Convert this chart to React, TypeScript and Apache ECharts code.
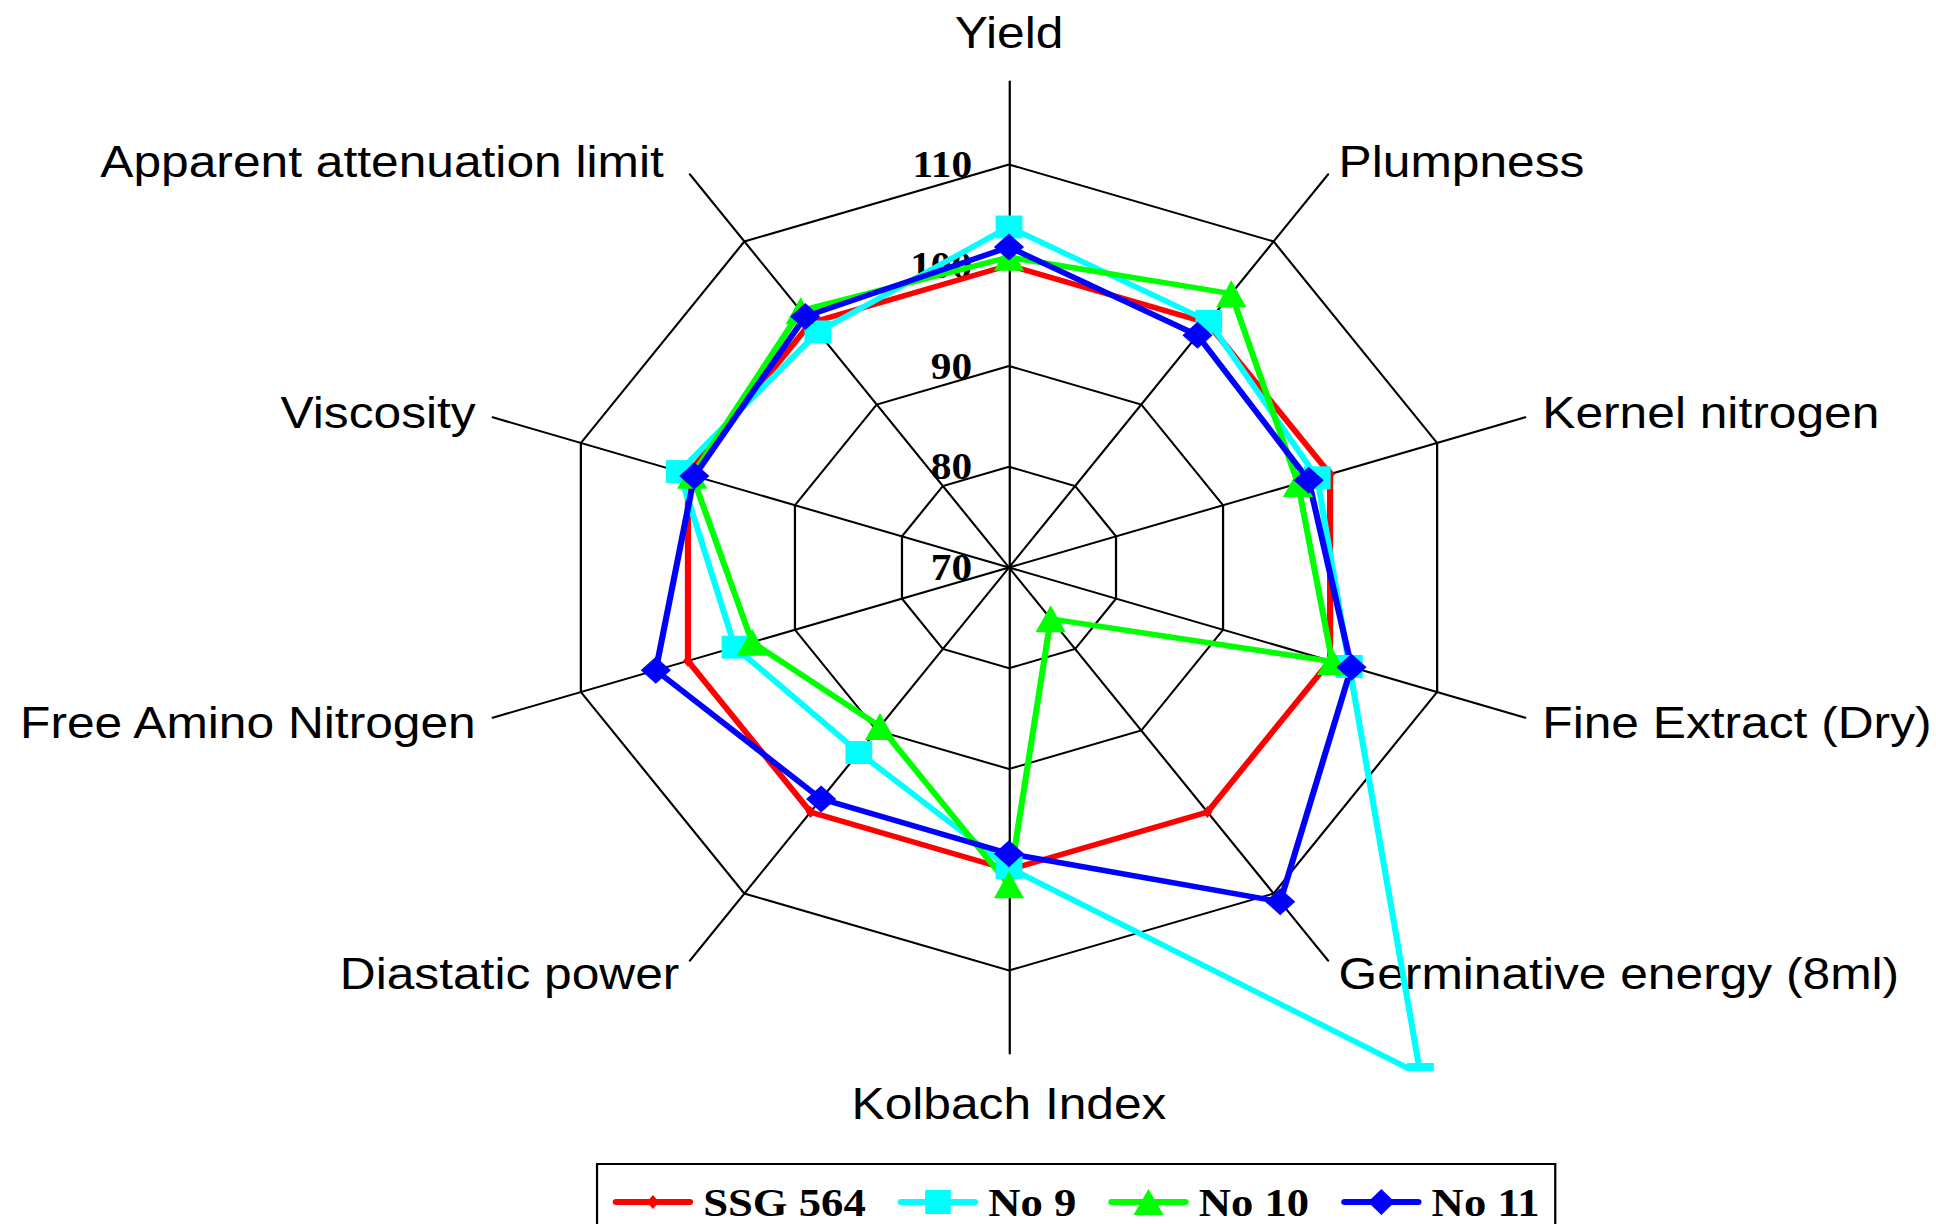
import React, { useEffect, useRef } from "react";
import * as echarts from "echarts";

// ---- data (clockwise from the top, as in the picture) ----
const indicators = [
  "Yield",
  "Plumpness",
  "Kernel nitrogen",
  "Fine Extract (Dry)",
  "Germinative energy (8ml)",
  "Kolbach Index",
  "Diastatic power",
  "Free Amino Nitrogen",
  "Viscosity",
  "Apparent attenuation limit",
];
const seriesNames = ["SSG 564", "No 9", "No 10", "No 11"];
const ssg564 = [100, 100, 100, 100, 100, 100, 100, 100, 100, 100];
const no9 = [103.8, 100.2, 98.8, 101.8, 132.2, 99.8, 92.7, 95.6, 100.8, 98.9];
const no10 = [100.8, 103.6, 97.0, 100.2, 76.3, 101.5, 89.5, 94.0, 99.6, 101.5];
const no11 = [101.8, 98.5, 98.0, 102.0, 111.0, 98.4, 98.4, 103.0, 99.4, 100.8];
const scaleMin = 70;
const scaleMax = 110;
const scaleStep = 10;

// ---- styles ----
const colors = ["#FF0000", "#00FFFF", "#00FF00", "#0000FF"];
const symbols = ["diamond", "rect", "triangle", "diamond"];
const symbolSizes: any[] = [[9, 12], [24, 23], [27, 27], [27, 27]];

const STRETCH = 1.117;
const PAGE_W = 1936;
const PAGE_H = 1224;
const CHART_W = PAGE_W / STRETCH;
const CX = 1009 / STRETCH;
const CY = 567.5;
const R_GRID = 403;
const R_AXIS = 486;
// bottom edge of the plot area (the original clips the overshooting point here)
const PLOT_BOTTOM = 1071;

const legendIcons = [
  "path://M0 0Z M72 26Z M3 10 L69 10 A3 3 0 0 1 69 16 L3 16 A3 3 0 0 1 3 10 Z M36 6 L41.5 13 L36 20 L30.5 13 Z",
  "path://M0 0Z M72 26Z M3 10 L69 10 A3 3 0 0 1 69 16 L3 16 A3 3 0 0 1 3 10 Z M24.5 1 L47.5 1 L47.5 25 L24.5 25 Z",
  "path://M0 0Z M72 26Z M3 10 L69 10 A3 3 0 0 1 69 16 L3 16 A3 3 0 0 1 3 10 Z M36 0 L49.5 26 L22.5 26 Z",
  "path://M0 0Z M72 26Z M3 10 L69 10 A3 3 0 0 1 69 16 L3 16 A3 3 0 0 1 3 10 Z M36 0 L48 13 L36 26 L24 13 Z",
];

// ECharts lays indicators out counter-clockwise; reorder so the picture reads clockwise
const order = indicators.map((_, i) => (indicators.length - i) % indicators.length);
const reorder = (arr: number[]) => order.map((k) => arr[k]);

export default function App() {
  const ref = useRef<HTMLDivElement>(null);

  useEffect(() => {
    if (!ref.current) return;
    document.body.style.overflow = "hidden";
    const chart = echarts.init(ref.current, null, { renderer: "svg" });
    const allSeries = [ssg564, no9, no10, no11];

    const option: any = {
      animation: false,
      backgroundColor: "#ffffff",
      legend: {
        data: seriesNames.map((n, i) => ({ name: n, icon: legendIcons[i] })),
        left: 534.5,
        top: 1164,
        orient: "horizontal",
        itemWidth: 72,
        itemHeight: 26,
        itemGap: 28.6,
        padding: [18, 14, 40, 14],
        borderColor: "#000",
        borderWidth: 2,
        selectedMode: false,
        itemStyle: { borderWidth: 0 },
        textStyle: {
          fontFamily: "Liberation Serif",
          fontWeight: "bold",
          fontSize: 40,
          color: "#000",
          padding: [0, 0, 0, 4],
        },
      },
      graphic: [
        {
          type: "rect",
          z: 100,
          silent: true,
          shape: { x: 1375 / STRETCH, y: PLOT_BOTTOM, width: 95 / STRETCH, height: 80 },
          style: { fill: "#ffffff" },
        },
      ],
      radar: [
        {
          center: [CX, CY],
          radius: R_GRID,
          startAngle: 90,
          shape: "polygon",
          splitNumber: (scaleMax - scaleMin) / scaleStep,
          indicator: order.map((k, j) => {
            const ind: any = { name: indicators[k], min: scaleMin, max: scaleMax };
            if (j === 0) {
              ind.axisLabel = {
                show: true,
                fontFamily: "Liberation Serif",
                fontWeight: "bold",
                fontSize: 37,
                color: "#000",
                margin: 33,
              };
            }
            return ind;
          }),
          axisName: { show: false },
          axisLine: { show: false },
          axisTick: { show: false },
          axisLabel: { show: false },
          splitLine: { show: true, lineStyle: { color: "#000", width: 2 } },
          splitArea: { show: false },
        },
        {
          center: [CX, CY],
          radius: R_AXIS,
          startAngle: 90,
          shape: "polygon",
          splitNumber: 1,
          axisNameGap: 16,
          indicator: order.map((k) => {
            const ind: any = { name: indicators[k], min: scaleMin, max: 120 };
            if (k === 0 || k === 5) ind.nameGap = 27;
            if (k === 9) ind.nameTextStyle = { padding: [0, 14, 0, 0] };
            return ind;
          }),
          axisName: {
            show: true,
            color: "#000",
            fontSize: 44.5,
            fontFamily: "Liberation Sans",
          },
          axisLine: { show: true, lineStyle: { color: "#000", width: 2 } },
          axisTick: { show: false },
          axisLabel: { show: false },
          splitLine: { show: false },
          splitArea: { show: false },
        },
      ],
      series: [
        {
          type: "radar",
          radarIndex: 0,
          silent: true,
          emphasis: { disabled: true },
          data: seriesNames.map((n, i) => ({
            name: n,
            value: reorder(allSeries[i]),
            symbol: symbols[i],
            symbolSize: symbolSizes[i],
            lineStyle: { color: colors[i], width: 5.5, type: "solid" },
            itemStyle: { color: colors[i], borderWidth: 0 },
          })),
        },
      ],
    };
    chart.setOption(option);
    return () => chart.dispose();
  }, []);

  return (
    <div
      ref={ref}
      style={{
        position: "absolute",
        left: 0,
        top: 0,
        width: CHART_W,
        height: PAGE_H,
        transform: `scaleX(${STRETCH})`,
        transformOrigin: "0 0",
        background: "#fff",
      }}
    />
  );
}
